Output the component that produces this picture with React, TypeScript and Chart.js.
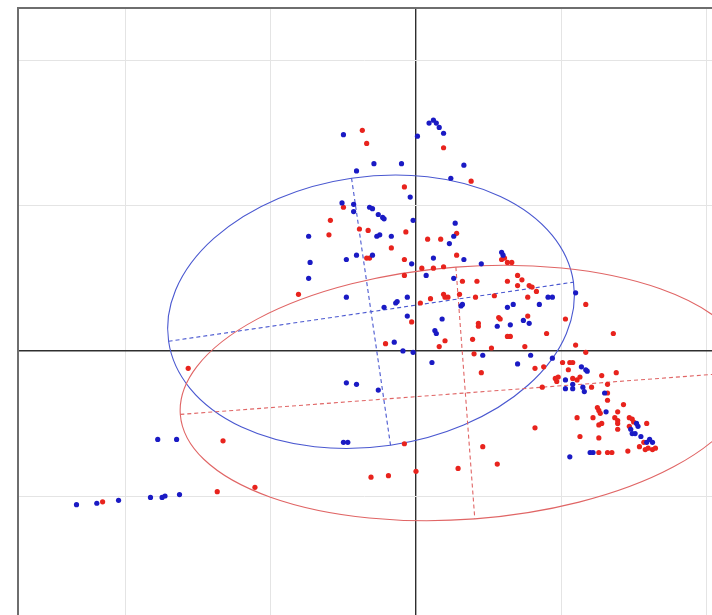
import React, { useEffect, useRef } from 'react';
import { Chart, registerables } from 'chart.js';

Chart.register(...registerables);

// Axis ranges and grid ticks (data units)
const X_RANGE = [-2.75, 2.04];
const Y_RANGE = [-1.82, 2.37];
const X_TICKS = [-2, -1, 0, 1, 2];
const Y_TICKS = [-1, 0, 1, 2];

// Group 1 (blue) factor scores
const bluePoints: [number, number][] = [
  [-0.50, 1.49], [0.01, 1.48], [0.09, 1.57], [0.12, 1.59], [0.14, 1.57], [0.16, 1.54], [0.19, 1.50],
  [-0.29, 1.29], [-0.10, 1.29], [0.33, 1.28], [-0.41, 1.24], [0.24, 1.19], [-0.04, 1.06],
  [-0.51, 1.02], [-0.43, 1.01], [-0.43, 0.96], [-0.32, 0.99], [-0.30, 0.98], [-0.26, 0.94],
  [-0.23, 0.92], [-0.22, 0.91], [-0.02, 0.90], [0.27, 0.88], [-0.74, 0.79], [-0.27, 0.79],
  [-0.25, 0.80], [-0.17, 0.79], [0.26, 0.79], [0.23, 0.74], [-0.73, 0.61], [-0.48, 0.63],
  [-0.41, 0.66], [-0.30, 0.66], [-0.03, 0.60], [0.12, 0.64], [0.33, 0.63], [0.59, 0.68],
  [0.60, 0.66], [0.45, 0.60], [-0.74, 0.50], [0.07, 0.52], [0.26, 0.50], [-0.48, 0.37],
  [-0.06, 0.37], [-0.14, 0.33], [-0.13, 0.34], [-0.22, 0.30], [0.31, 0.31], [0.32, 0.32],
  [-0.06, 0.24], [0.63, 0.30], [0.67, 0.32], [0.85, 0.32], [0.91, 0.37], [0.94, 0.37],
  [1.10, 0.40], [0.18, 0.22], [0.74, 0.21], [0.78, 0.19], [0.56, 0.17], [0.65, 0.18],
  [0.13, 0.14], [0.14, 0.12], [-0.15, 0.06], [-0.09, 0.00], [-0.02, -0.01], [0.46, -0.03],
  [0.79, -0.03], [0.11, -0.08], [0.70, -0.09], [0.94, -0.05], [1.14, -0.11], [1.17, -0.13],
  [1.18, -0.14], [1.03, -0.20], [1.08, -0.26], [1.08, -0.23], [1.15, -0.25], [1.16, -0.28],
  [1.03, -0.26], [1.30, -0.29], [1.31, -0.42], [1.52, -0.50], [1.53, -0.52], [1.48, -0.54],
  [1.49, -0.57], [1.51, -0.57], [1.55, -0.59], [1.59, -0.63], [1.61, -0.61], [1.63, -0.63],
  [1.20, -0.70], [1.22, -0.70], [1.06, -0.73], [-0.48, -0.22], [-0.41, -0.23], [-0.26, -0.27],
  [-1.78, -0.61], [-1.65, -0.61], [-0.50, -0.63], [-0.47, -0.63], [-2.34, -1.06], [-2.20, -1.05],
  [-2.05, -1.03], [-1.83, -1.01], [-1.75, -1.01], [-1.73, -1.00], [-1.63, -0.99],
];

// Group 2 (red) factor scores
const redPoints: [number, number][] = [
  [-0.37, 1.52], [-0.34, 1.43], [0.19, 1.40], [0.38, 1.17], [-0.08, 1.13], [-0.50, 0.99],
  [-0.59, 0.90], [-0.39, 0.84], [-0.33, 0.83], [-0.07, 0.82], [-0.60, 0.80], [0.28, 0.81],
  [0.17, 0.77], [0.08, 0.77], [-0.17, 0.71], [-0.34, 0.64], [-0.32, 0.64], [-0.08, 0.63],
  [0.28, 0.66], [0.59, 0.63], [0.61, 0.64], [0.63, 0.61], [0.66, 0.61], [0.04, 0.57],
  [0.12, 0.57], [0.19, 0.58], [-0.08, 0.52], [-0.81, 0.39], [0.32, 0.48], [0.42, 0.48],
  [0.63, 0.48], [0.70, 0.52], [0.73, 0.49], [0.70, 0.45], [0.78, 0.45], [0.80, 0.44],
  [0.83, 0.41], [0.03, 0.33], [0.10, 0.36], [0.19, 0.39], [0.20, 0.37], [0.22, 0.37],
  [0.30, 0.39], [0.41, 0.37], [0.54, 0.38], [0.77, 0.37], [1.17, 0.32], [-0.03, 0.20],
  [0.57, 0.23], [0.58, 0.22], [0.77, 0.24], [1.03, 0.22], [0.43, 0.19], [0.43, 0.17],
  [0.20, 0.07], [0.39, 0.08], [0.63, 0.10], [0.65, 0.10], [0.90, 0.12], [1.36, 0.12],
  [-0.21, 0.05], [0.16, 0.03], [0.52, 0.02], [0.75, 0.03], [1.10, 0.04], [0.40, -0.02],
  [1.17, -0.01], [0.88, -0.11], [1.01, -0.08], [1.06, -0.08], [1.08, -0.08], [1.05, -0.13],
  [1.28, -0.17], [1.38, -0.15], [0.96, -0.19], [0.98, -0.18], [0.97, -0.21], [1.08, -0.19],
  [1.11, -0.20], [1.13, -0.18], [1.21, -0.25], [1.32, -0.23], [0.87, -0.25], [1.32, -0.34],
  [1.43, -0.37], [1.25, -0.39], [1.26, -0.41], [1.39, -0.42], [1.27, -0.43], [1.22, -0.46],
  [1.11, -0.46], [1.37, -0.46], [1.39, -0.48], [1.39, -0.50], [1.47, -0.46], [1.49, -0.47],
  [1.50, -0.49], [1.59, -0.50], [1.28, -0.50], [1.26, -0.51], [1.39, -0.54], [1.47, -0.52],
  [1.13, -0.59], [1.26, -0.60], [1.54, -0.66], [1.58, -0.68], [1.60, -0.67], [1.63, -0.68],
  [1.65, -0.67], [1.57, -0.63], [1.26, -0.70], [1.32, -0.70], [1.35, -0.70], [1.46, -0.69],
  [-1.57, -0.12], [0.82, -0.12], [0.45, -0.15], [-1.33, -0.62], [-0.08, -0.64], [0.46, -0.66],
  [0.82, -0.53], [0.29, -0.81], [0.56, -0.78], [-0.31, -0.87], [-0.19, -0.86], [0.00, -0.83],
  [-1.37, -0.97], [-1.11, -0.94], [-2.16, -1.04], [1.32, -0.29],
];

// Confidence ellipses: centre, semi-axes, rotation (degrees)
const blueEllipse = { cx: -0.31, cy: 0.27, a: 1.41, b: 0.93, angle: 8.3, color: '#4a58d0' };
const redEllipse = { cx: 0.34, cy: -0.29, a: 1.97, b: 0.87, angle: 4.3, color: '#e06565' };
const ELLIPSES = [blueEllipse, redEllipse];

const BLUE = '#1a1ac4';
const RED = '#e8231d';

const ellipsePlugin = {
  id: 'ellipses',
  beforeDatasetsDraw(chart: any) {
    const { ctx, scales, chartArea } = chart;
    const x = scales.x;
    const y = scales.y;
    ctx.save();
    ctx.beginPath();
    ctx.rect(chartArea.left, chartArea.top, chartArea.right - chartArea.left, chartArea.bottom - chartArea.top);
    ctx.clip();
    const seg = (x1: number, y1: number, x2: number, y2: number) => {
      ctx.beginPath();
      ctx.moveTo(x.getPixelForValue(x1), y.getPixelForValue(y1));
      ctx.lineTo(x.getPixelForValue(x2), y.getPixelForValue(y2));
      ctx.stroke();
    };
    for (const e of ELLIPSES) {
      const cxp = x.getPixelForValue(e.cx);
      const cyp = y.getPixelForValue(e.cy);
      const rx = Math.abs(x.getPixelForValue(e.cx + e.a) - cxp);
      const ry = Math.abs(y.getPixelForValue(e.cy + e.b) - cyp);
      const t = (e.angle * Math.PI) / 180;
      ctx.strokeStyle = e.color;
      ctx.lineWidth = 1.1;
      ctx.setLineDash([]);
      ctx.beginPath();
      ctx.ellipse(cxp, cyp, rx, ry, -t, 0, Math.PI * 2);
      ctx.stroke();
      ctx.setLineDash([4, 3]);
      const c = Math.cos(t);
      const s = Math.sin(t);
      seg(e.cx - e.a * c, e.cy - e.a * s, e.cx + e.a * c, e.cy + e.a * s);
      seg(e.cx - e.b * s, e.cy + e.b * c, e.cx + e.b * s, e.cy - e.b * c);
    }
    ctx.restore();
    // frame (left and top edges)
    ctx.save();
    ctx.strokeStyle = '#6e6e6e';
    ctx.lineWidth = 2;
    ctx.beginPath();
    ctx.moveTo(chartArea.left + 1, chartArea.bottom);
    ctx.lineTo(chartArea.left + 1, chartArea.top + 1);
    ctx.lineTo(chartArea.right, chartArea.top + 1);
    ctx.stroke();
    ctx.restore();
  },
};

export default function App() {
  const ref = useRef<HTMLCanvasElement | null>(null);
  useEffect(() => {
    if (!ref.current) return;
    const gridColor = (c: any) => (c.tick && c.tick.value === 0 ? '#2e2e2e' : '#e4e4e4');
    const gridWidth = (c: any) => (c.tick && c.tick.value === 0 ? 1.4 : 1);
    const chart = new Chart(ref.current, {
      type: 'scatter',
      data: {
        datasets: [
          {
            label: 'group 1',
            data: bluePoints.map(([px, py]) => ({ x: px, y: py })),
            backgroundColor: BLUE,
            borderWidth: 0,
            pointRadius: 2.6,
          },
          {
            label: 'group 2',
            data: redPoints.map(([px, py]) => ({ x: px, y: py })),
            backgroundColor: RED,
            borderWidth: 0,
            pointRadius: 2.6,
          },
        ],
      },
      options: {
        animation: false,
        responsive: false,
        maintainAspectRatio: false,
        layout: { autoPadding: false, padding: { left: 17, top: 7, right: 0, bottom: 0 } },
        plugins: { legend: { display: false }, tooltip: { enabled: false } },
        scales: {
          x: {
            type: 'linear',
            min: X_RANGE[0],
            max: X_RANGE[1],
            ticks: { display: false },
            border: { display: false },
            grid: { drawTicks: false, color: gridColor, lineWidth: gridWidth },
            afterBuildTicks: (s: any) => {
              s.ticks = X_TICKS.map((v) => ({ value: v }));
            },
          },
          y: {
            type: 'linear',
            min: Y_RANGE[0],
            max: Y_RANGE[1],
            ticks: { display: false },
            border: { display: false },
            grid: { drawTicks: false, color: gridColor, lineWidth: gridWidth },
            afterBuildTicks: (s: any) => {
              s.ticks = Y_TICKS.map((v) => ({ value: v }));
            },
          },
        },
      },
      plugins: [ellipsePlugin],
    } as any);
    return () => chart.destroy();
  }, []);
  return (
    <div style={{ position: 'absolute', left: 0, top: 0, width: 712, height: 615, background: '#fff' }}>
      <canvas ref={ref} width={712} height={615} style={{ display: 'block' }} />
    </div>
  );
}
